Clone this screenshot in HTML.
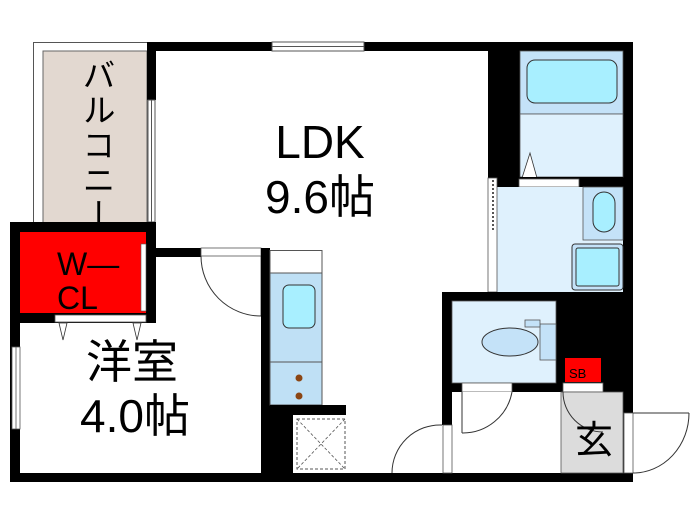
<!DOCTYPE html>
<html><head><meta charset="utf-8"><style>
html,body{margin:0;padding:0;background:#fff;width:700px;height:525px;overflow:hidden;position:relative}
svg{display:block}
text{font-family:"Liberation Sans","Noto Sans CJK JP",sans-serif;fill:#000}
.balc{position:absolute;left:78px;top:58px;writing-mode:vertical-rl;font-family:"Liberation Sans","Noto Sans CJK JP",sans-serif;font-size:33px;line-height:36px;letter-spacing:2px;color:#000}
</style></head><body>
<svg width="700" height="525" viewBox="0 0 700 525" xmlns="http://www.w3.org/2000/svg">
<rect x="33.5" y="42.5" width="114" height="182" fill="#fff" stroke="#555" stroke-width="1"/>
<rect x="43" y="51" width="104" height="172" fill="#e2d8d0" stroke="#666" stroke-width="1"/>

<rect x="147" y="42" width="486" height="9" fill="#000"/>
<rect x="272" y="42" width="92" height="9" fill="#fff" stroke="#555" stroke-width="1"/>
<line x1="272" y1="46.5" x2="364" y2="46.5" stroke="#555"/>
<rect x="147" y="42" width="9" height="58" fill="#000"/>
<rect x="148" y="100" width="7" height="122" fill="#fff" stroke="#555" stroke-width="1"/>
<line x1="151.5" y1="100" x2="151.5" y2="222" stroke="#555"/>
<rect x="10" y="222" width="146" height="10" fill="#000"/>
<rect x="10" y="222" width="10" height="260" fill="#000"/>
<rect x="146" y="222" width="10" height="101" fill="#000"/>
<rect x="10" y="473" width="623" height="9" fill="#000"/>
<rect x="623" y="42" width="10" height="440" fill="#000"/>

<rect x="20" y="232" width="126" height="81" fill="#ff0000"/>
<rect x="141" y="244" width="5" height="67" fill="#fff" stroke="#555" stroke-width="0.6"/>
<text x="57" y="275" font-size="32">W—</text>
<text x="57" y="309" font-size="32">CL</text>
<rect x="10" y="313" width="146" height="10" fill="#000"/>
<rect x="55" y="315" width="91" height="7" fill="#fff" stroke="#555" stroke-width="0.8"/>
<polygon points="59,323 67,323 63,340" fill="#fff" stroke="#333" stroke-width="0.8"/>
<polygon points="133,323 141,323 137,340" fill="#fff" stroke="#333" stroke-width="0.8"/>

<rect x="12" y="347" width="8" height="82" fill="#fff" stroke="#555" stroke-width="0.8"/>
<line x1="16" y1="347" x2="16" y2="429" stroke="#555" stroke-width="0.8"/>
<rect x="156" y="248" width="45" height="9" fill="#000"/>
<rect x="201" y="248" width="60" height="8" fill="#fff" stroke="#555" stroke-width="0.8"/>
<path d="M201,256 A60,60 0 0 0 261,316" fill="none" stroke="#333" stroke-width="1"/>
<line x1="261" y1="256" x2="261" y2="316" stroke="#333" stroke-width="0.8"/>
<rect x="261" y="248" width="9" height="225" fill="#000"/>
<text x="132" y="378" font-size="46" text-anchor="middle">洋室</text>
<text x="135" y="432" font-size="46" text-anchor="middle">4.0帖</text>

<rect x="270" y="250.5" width="52" height="23" fill="#fff" stroke="#555" stroke-width="1"/>
<rect x="270" y="273" width="52" height="132" fill="#bfe0f5" stroke="#555" stroke-width="1"/>
<line x1="270" y1="362" x2="322" y2="362" stroke="#555"/>
<rect x="283" y="285" width="32" height="43" rx="6" fill="#a8efff" stroke="#333" stroke-width="1"/>
<circle cx="299" cy="378" r="3.5" fill="#8b4513"/>
<circle cx="299" cy="396" r="3.5" fill="#8b4513"/>
<rect x="270" y="405" width="76" height="10" fill="#000"/>
<rect x="270" y="405" width="23" height="68" fill="#000"/>
<rect x="297" y="419" width="48" height="50" fill="#fff" stroke="#555" stroke-width="1" stroke-dasharray="3,2"/>
<line x1="297" y1="419" x2="345" y2="469" stroke="#555" stroke-width="0.8" stroke-dasharray="3,2"/>
<line x1="345" y1="419" x2="297" y2="469" stroke="#555" stroke-width="0.8" stroke-dasharray="3,2"/>

<text x="320" y="158" font-size="46" text-anchor="middle">LDK</text>
<text x="320" y="213" font-size="46" text-anchor="middle">9.6帖</text>

<rect x="488" y="51" width="32" height="137" fill="#000"/>
<rect x="520" y="51" width="103" height="63" fill="#c4e2f8" stroke="#555" stroke-width="0.8"/>
<rect x="527" y="60" width="90" height="43" rx="8" fill="#a8efff" stroke="#333" stroke-width="1"/>
<rect x="520" y="114" width="103" height="63" fill="#dff1fd" stroke="#555" stroke-width="0.8"/>
<polygon points="522,178 537,178 530,153" fill="#fff" stroke="#333" stroke-width="0.8"/>
<rect x="520" y="177" width="103" height="10" fill="#000"/>
<rect x="519" y="179" width="60" height="8" fill="#fff" stroke="#555" stroke-width="0.8"/>

<rect x="497" y="187" width="126" height="105" fill="#dff1fd"/>
<rect x="583" y="187" width="40" height="53" fill="#c4e2f8" stroke="#555" stroke-width="0.8"/>
<rect x="593" y="192" width="22" height="40" rx="11" fill="#a8efff" stroke="#333" stroke-width="1"/>
<rect x="572" y="244" width="51" height="46" rx="3" fill="#c4e2f8" stroke="#333" stroke-width="1"/>
<rect x="576" y="248" width="43" height="38" rx="2" fill="#a8efff" stroke="#333" stroke-width="1"/>
<rect x="488" y="178" width="9" height="114" fill="#fff" stroke="#555" stroke-width="0.8"/>
<line x1="493" y1="180" x2="493" y2="232" stroke="#555" stroke-width="2" stroke-dasharray="2,2"/>

<rect x="442" y="292" width="191" height="100" fill="#000"/>
<rect x="452" y="301" width="104" height="82" fill="#dff1fd" stroke="#555" stroke-width="0.8"/>
<rect x="540" y="324" width="16" height="36" fill="#c4e2f8" stroke="#555" stroke-width="0.8"/>
<rect x="525" y="320" width="15" height="7" fill="#c4e2f8" stroke="#555" stroke-width="0.8"/>
<ellipse cx="510" cy="342" rx="28" ry="14" fill="#c4e2f8" stroke="#333" stroke-width="1"/>
<rect x="565" y="358" width="36" height="24" fill="#ff0000"/>
<text x="569" y="378" font-size="13">SB</text>
<rect x="462" y="383" width="50" height="9" fill="#fff" stroke="#555" stroke-width="0.8"/>
<rect x="563" y="383" width="40" height="9" fill="#fff" stroke="#555" stroke-width="0.8"/>

<rect x="452" y="392" width="171" height="81" fill="#fff"/>
<rect x="561" y="392" width="62" height="81" fill="#dcdcdc" stroke="#555" stroke-width="0.8"/>
<line x1="462" y1="392" x2="462" y2="433" stroke="#333"/>
<path d="M462,433 A50,50 0 0 0 512,392" fill="none" stroke="#333"/>
<path d="M563,392 A40,40 0 0 0 603,432" fill="none" stroke="#333"/>
<rect x="442" y="392" width="10" height="33" fill="#000"/>
<rect x="443" y="425" width="9" height="48" fill="#fff" stroke="#555" stroke-width="0.8"/>
<path d="M442,425 A48,48 0 0 0 392,473" fill="none" stroke="#333"/>
<text x="594" y="453" font-size="38" text-anchor="middle">玄</text>
<rect x="624" y="413" width="9" height="60" fill="#fff" stroke="#555" stroke-width="0.8"/>
<line x1="633" y1="413" x2="689" y2="413" stroke="#333"/>
<path d="M689,413 A56,60 0 0 1 633,473" fill="none" stroke="#333"/>
</svg>
<div class="balc">バルコニー</div>
</body></html>
